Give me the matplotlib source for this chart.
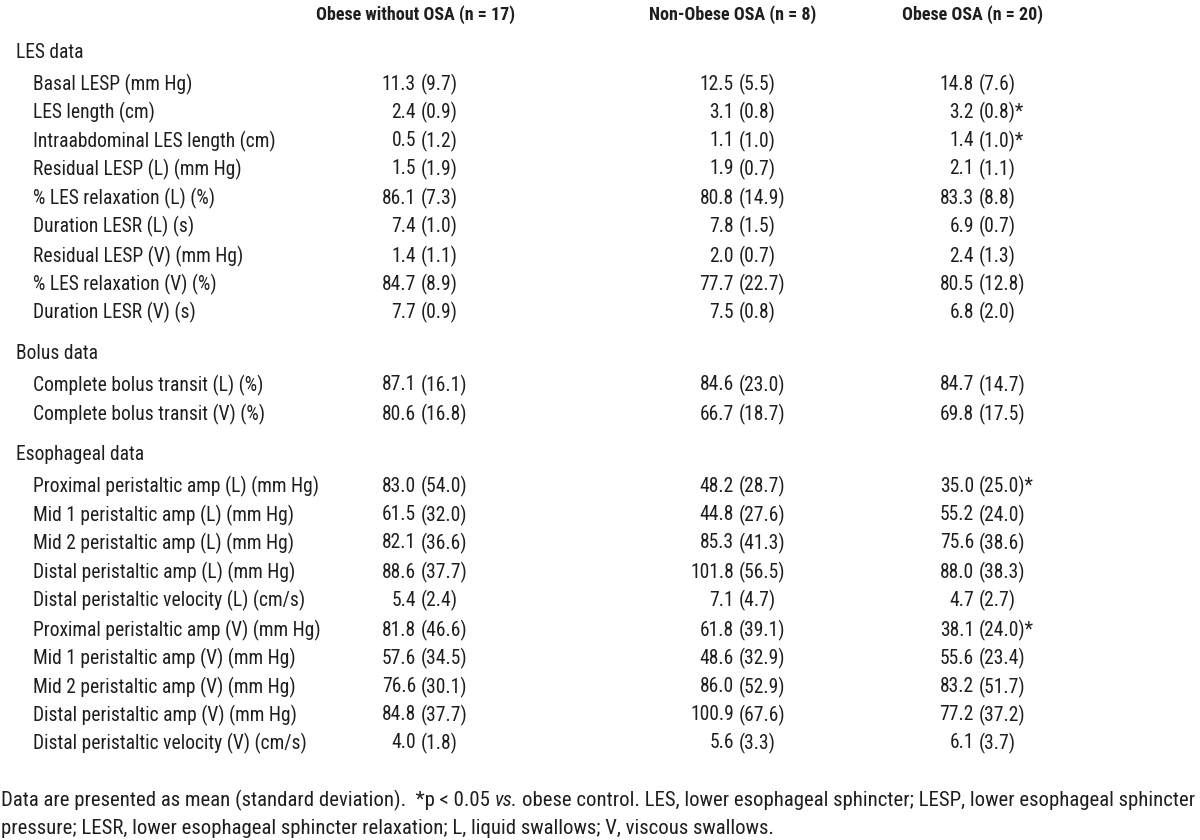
import matplotlib.pyplot as plt

W, H = 1200, 840
FONT = ["Roboto Condensed", "Liberation Sans", "DejaVu Sans"]
INK = "#1e1e1e"

GROUPS = ["Obese without OSA (n = 17)", "Non-Obese OSA (n = 8)", "Obese OSA (n = 20)"]

SECTIONS = ["LES data", "Bolus data", "Esophageal data"]

LES_ROWS = [
    "Basal LESP (mm Hg)",
    "LES length (cm)",
    "Intraabdominal LES length (cm)",
    "Residual LESP (L) (mm Hg)",
    "% LES relaxation (L) (%)",
    "Duration LESR (L) (s)",
    "Residual LESP (V) (mm Hg)",
    "% LES relaxation (V) (%)",
    "Duration LESR (V) (s)",
]
BOLUS_ROWS = [
    "Complete bolus transit (L) (%)",
    "Complete bolus transit (V) (%)",
]
ESO_ROWS = [
    "Proximal peristaltic amp (L) (mm Hg)",
    "Mid 1 peristaltic amp (L) (mm Hg)",
    "Mid 2 peristaltic amp (L) (mm Hg)",
    "Distal peristaltic amp (L) (mm Hg)",
    "Distal peristaltic velocity (L) (cm/s)",
    "Proximal peristaltic amp (V) (mm Hg)",
    "Mid 1 peristaltic amp (V) (mm Hg)",
    "Mid 2 peristaltic amp (V) (mm Hg)",
    "Distal peristaltic amp (V) (mm Hg)",
    "Distal peristaltic velocity (V) (cm/s)",
]

# mean and sd per group, in row order (LES, bolus, esophageal)
OBESE_MEAN = ["11.3", "2.4", "0.5", "1.5", "86.1", "7.4", "1.4", "84.7", "7.7",
              "87.1", "80.6",
              "83.0", "61.5", "82.1", "88.6", "5.4", "81.8", "57.6", "76.6", "84.8", "4.0"]
OBESE_SD = ["9.7", "0.9", "1.2", "1.9", "7.3", "1.0", "1.1", "8.9", "0.9",
            "16.1", "16.8",
            "54.0", "32.0", "36.6", "37.7", "2.4", "46.6", "34.5", "30.1", "37.7", "1.8"]
NONOB_MEAN = ["12.5", "3.1", "1.1", "1.9", "80.8", "7.8", "2.0", "77.7", "7.5",
              "84.6", "66.7",
              "48.2", "44.8", "85.3", "101.8", "7.1", "61.8", "48.6", "86.0", "100.9", "5.6"]
NONOB_SD = ["5.5", "0.8", "1.0", "0.7", "14.9", "1.5", "0.7", "22.7", "0.8",
            "23.0", "18.7",
            "28.7", "27.6", "41.3", "56.5", "4.7", "39.1", "32.9", "52.9", "67.6", "3.3"]
OSA_MEAN = ["14.8", "3.2", "1.4", "2.1", "83.3", "6.9", "2.4", "80.5", "6.8",
            "84.7", "69.8",
            "35.0", "55.2", "75.6", "88.0", "4.7", "38.1", "55.6", "83.2", "77.2", "6.1"]
OSA_SD = ["7.6", "0.8", "1.0", "1.1", "8.8", "0.7", "1.3", "12.8", "2.0",
          "14.7", "17.5",
          "25.0", "24.0", "38.6", "38.3", "2.7", "24.0", "23.4", "51.7", "37.2", "3.7"]
# significance marks (p < 0.05 vs obese control), obese OSA column only
OSA_SIG = ["", "*", "*", "", "", "", "", "", "",
           "", "",
           "*", "", "", "", "", "*", "", "", "", ""]

# footnote runs: (text, italic?)
FOOT_1 = [("Data are presented as mean (standard deviation).  *p < 0.05", False),
          ("vs.", True),
          ("obese control. LES, lower esophageal sphincter; LESP, lower esophageal sphincter", False)]
FOOT_2 = [("pressure; LESR, lower esophageal sphincter relaxation; L, liquid swallows; V, viscous swallows.", False)]

# layout (pixels from top-left)
HEADER_Y = 15
SECTION_Y = [52, 353, 454]
ROW_Y = [84, 112, 141, 169, 198, 226, 256, 284, 312,
         385, 414,
         486, 515, 543, 572, 600, 630, 658, 687, 715, 743]
FOOT_Y = [800, 828]
COL_X = [416, 734, 974]
SECTION_X = 16
ROW_X = 33

fig = plt.figure(figsize=(W / 100, H / 100), dpi=100)
fig.patch.set_facecolor("white")
renderer = fig.canvas.get_renderer()


def text_w(s, size, weight="normal", style="normal"):
    t = fig.text(0, 0, s, fontsize=size, family=FONT, fontweight=weight, fontstyle=style)
    w = t.get_window_extent(renderer).width
    t.remove()
    return w


def fit(s, target, weight="normal"):
    return 20 * target / text_w(s, 20, weight)


def runs_w(runs, size):
    sp = text_w("a a", size) - text_w("aa", size)
    return sum(text_w(s, size, style="italic" if it else "normal") for s, it in runs) + sp * (len(runs) - 1)


def put(x, y, s, ha="left", weight="normal", size=12, style="normal"):
    fig.text(x / W, 1 - y / H, s, ha=ha, va="center", fontsize=size,
             family=FONT, color=INK, fontweight=weight, fontstyle=style)


# font sizes matched to the widths of the reference texts
FS = fit("Proximal peristaltic amp (V) (mm Hg)", 288)
HFS = fit(GROUPS[0], 198, "bold")
SP = text_w("a a", FS) - text_w("aa", FS)
FFS = 20 * 1192 / runs_w(FOOT_1, 20)
FSP = text_w("a a", FFS) - text_w("aa", FFS)

for x, g in zip(COL_X, GROUPS):
    put(x - 1, HEADER_Y, g, ha="center", weight="bold", size=HFS)

for y, s in zip(SECTION_Y, SECTIONS):
    put(SECTION_X, y, s, size=FS)

labels = LES_ROWS + BOLUS_ROWS + ESO_ROWS
cols = [(OBESE_MEAN, OBESE_SD, [""] * len(labels)),
        (NONOB_MEAN, NONOB_SD, [""] * len(labels)),
        (OSA_MEAN, OSA_SD, OSA_SIG)]

for i, (y, lab) in enumerate(zip(ROW_Y, labels)):
    put(ROW_X, y, lab, size=FS)
    for x, (means, sds, sig) in zip(COL_X, cols):
        # decimal-aligned: the mean ends at the column anchor
        put(x, y, means[i], ha="right", size=FS)
        put(x + SP, y, "(" + sds[i] + ")" + sig[i], size=FS)

# footnote, italic "vs." set as its own run
for y, runs in zip(FOOT_Y, [FOOT_1, FOOT_2]):
    x = 1
    for s, it in runs:
        style = "italic" if it else "normal"
        put(x, y, s, size=FFS, style=style)
        x += text_w(s, FFS, style=style) + FSP

fig.savefig("out.png", dpi=100, facecolor="white")
